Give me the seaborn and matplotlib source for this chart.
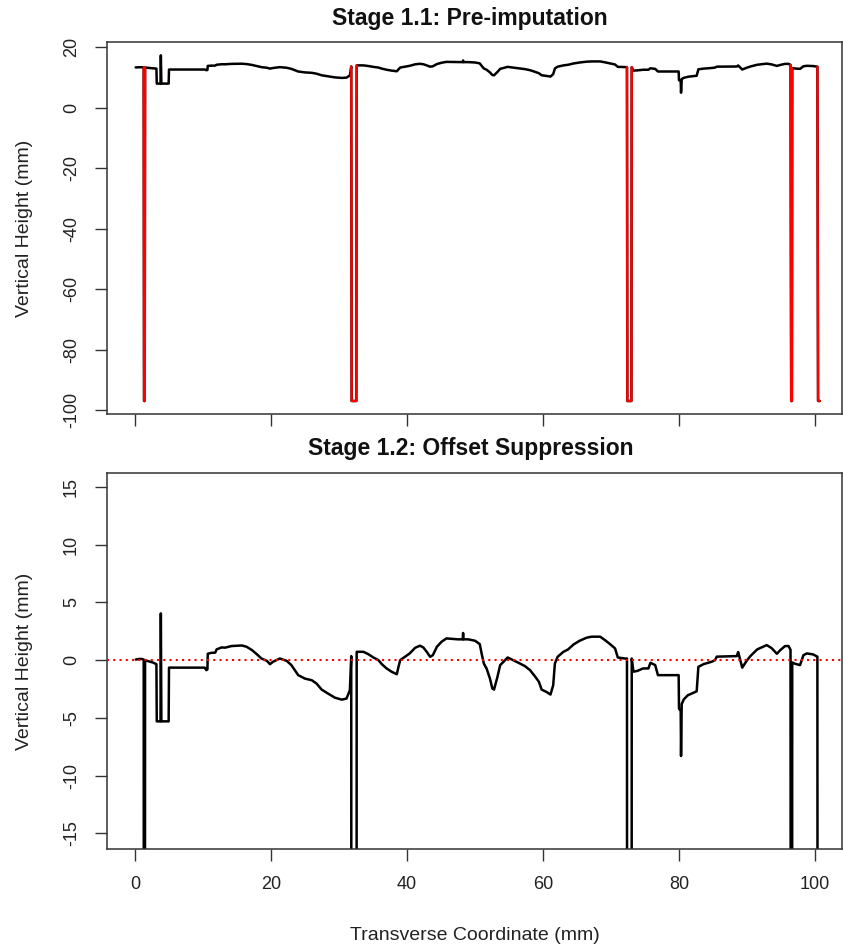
import numpy as np
import pandas as pd
import matplotlib
matplotlib.use("Agg")
import matplotlib.pyplot as plt
import seaborn as sns

# ---------------- data ----------------
# transverse coordinate of profile points (mm)
x_mm = [0.1, 0.6, 1.0, 1.28, 1.33, 1.43, 1.48, 2.0, 2.6, 3.15, 3.2, 3.75, 3.8, 3.88,
        4.95, 5.0, 7.0, 10.25, 10.5, 10.65, 10.7, 11.2, 11.8, 12.0, 12.75, 13.24,
        14.2, 15.7, 16.4, 17.2, 17.9, 18.6, 19.4, 19.85, 20.3, 21.3, 22.3, 23.0,
        23.5, 24.0, 25.0, 26.0, 26.7, 27.45, 28.4, 29.4, 30.4, 31.1, 31.6, 31.8,
        31.86, 32.55, 32.6, 33.6, 34.3, 35.05, 35.8, 36.3, 37.0, 37.75, 38.5,
        38.75, 39.0, 39.7, 40.4, 41.2, 41.9, 42.4, 42.9, 43.4, 43.8, 44.4, 45.1,
        45.8, 47.5, 48.2, 48.25, 48.3, 49.0, 50.0, 50.7, 51.0, 51.3, 51.7, 52.2,
        52.55, 52.8, 53.3, 53.7, 54.2, 54.8, 55.6, 56.4, 57.35, 58.1, 58.8, 59.4,
        59.8, 60.5, 61.1, 61.5, 61.75, 62.15, 63.0, 63.7, 64.5, 65.4, 66.4, 67.15,
        68.4, 69.1, 69.85, 70.6, 71.0, 72.0, 72.35, 72.4, 73.0, 73.05, 73.3, 73.9,
        74.7, 75.5, 75.8, 76.5, 76.9, 78.7, 79.95, 80.0, 80.25, 80.3, 80.4, 80.7,
        81.3, 82.6, 82.85, 83.6, 84.8, 85.3, 85.55, 88.5, 88.7, 89.3, 89.9, 90.5,
        91.5, 92.9, 93.6, 94.4, 94.9, 95.6, 96.1, 96.4, 96.5, 96.6, 96.65, 97.0,
        97.8, 98.3, 98.8, 99.7, 100.35, 100.45, 100.7]

# height after offset suppression (mm); None = missing reading
height_mm = [0.05, 0.1, 0.1, 0.05, None, None, 0.0, -0.1, -0.2, -0.35, -5.3, -5.3, 4.05, -5.3,
             -5.3, -0.65, -0.65, -0.65, -0.87, -0.8, 0.55, 0.63, 0.65, 0.93, 1.1, 1.08,
             1.22, 1.27, 1.16, 0.87, 0.52, 0.14, -0.06, -0.35, -0.14, 0.14, -0.06, -0.43,
             -0.87, -1.3, -1.6, -1.74, -2.03, -2.55, -2.9, -3.25, -3.42, -3.33, -2.61, 0.35,
             None, None, 0.72, 0.72, 0.52, 0.23, 0.0, -0.35, -0.72, -1.01, -1.22,
             -0.58, 0.0, 0.29, 0.58, 1.07, 1.25, 1.1, 0.72, 0.29, 0.43, 1.16, 1.6,
             1.88, 1.8, 1.8, 2.35, 1.8, 1.8, 1.68, 1.39, 0.5, -0.3, -0.72, -1.6,
             -2.46, -2.55, -1.45, -0.43, -0.14, 0.23, 0.0, -0.23, -0.52, -0.87, -1.39, -1.88,
             -2.55, -2.75, -2.98, -2.17, -0.29, 0.29, 0.72, 0.93, 1.36, 1.68, 1.94, 2.03,
             2.03, 1.74, 1.39, 1.01, 0.23, 0.14, 0.14, None, None, 0.14, -1.0, -0.93,
             -0.72, -0.72, -0.23, -0.43, -1.3, -1.3, -1.3, -4.2, -4.4, -8.3, -3.8, -3.4,
             -3.04, -2.7, -0.58, -0.35, -0.14, 0.0, 0.3, 0.35, 0.7, -0.65, -0.1, 0.35,
             0.93, 1.3, 1.05, 0.55, 0.87, 1.22, 1.22, 0.9, None, None, -0.2, -0.3,
             -0.43, 0.43, 0.58, 0.5, 0.3, None, None]

offset_mm = 13.2          # removed offset
missing_code_mm = -97.0   # value recorded for missing readings

x_ticks = [0, 20, 40, 60, 80, 100]
y_ticks_top = [20, 0, -20, -40, -60, -80, -100]
y_ticks_bottom = [15, 10, 5, 0, -5, -10, -15]

title_top = "Stage 1.1: Pre-imputation"
title_bottom = "Stage 1.2: Offset Suppression"
x_label = "Transverse Coordinate (mm)"
y_label = "Vertical Height (mm)"

# ---------------- prepare ----------------
missing = np.array([h is None for h in height_mm])
h = np.array([np.nan if v is None else v for v in height_mm], dtype=float)
raw = np.where(missing, missing_code_mm, h + offset_mm)
suppressed = raw - offset_mm

df = pd.DataFrame({"x": x_mm, "raw": raw, "sup": suppressed, "miss": missing})

# ---------------- style ----------------
sns.set_style("ticks")
plt.rcParams["font.family"] = ["Liberation Sans", "DejaVu Sans"]

W, H = 843, 949
fig = plt.figure(figsize=(W / 100, H / 100), dpi=100)
L, R = 107, 842
ax1 = fig.add_axes([L / W, 1 - 414 / H, (R - L) / W, (414 - 42) / H])
ax2 = fig.add_axes([L / W, 1 - 849 / H, (R - L) / W, (849 - 473) / H])

# top panel: raw profile with missing segments in red
sns.lineplot(data=df, x="x", y="raw", ax=ax1, color="black", lw=1.8,
             sort=False, estimator=None)
idx = np.where(df["miss"].values)[0]
runs = []
for i in idx:
    if runs and i == runs[-1][-1] + 1:
        runs[-1].append(i)
    else:
        runs.append([i])
for run in runs:
    lo = max(run[0] - 1, 0)
    hi = min(run[-1] + 1, len(df) - 1)
    seg = df.iloc[lo:hi + 1]
    sns.lineplot(data=seg, x="x", y="raw", ax=ax1, color="red", lw=1.7,
                 sort=False, estimator=None)

# bottom panel: offset-suppressed profile
sns.lineplot(data=df, x="x", y="sup", ax=ax2, color="black", lw=1.8,
             sort=False, estimator=None)
ax2.axhline(0, color="red", lw=1.5, ls=(0, (1, 2)), zorder=5)

xlim = ((L - 135) / 6.8, (R - 135) / 6.8)
for ax, yt, yl, title, ycen in [
    (ax1, y_ticks_top, (-101.3, 21.65), title_top, 18),
    (ax2, y_ticks_bottom, (-16.35, 16.2), title_bottom, 449),
]:
    ax.set_xlim(*xlim)
    ax.set_ylim(*yl)
    ax.set_xticks(x_ticks)
    ax.set_yticks(yt)
    ax.set_yticklabels([str(v) for v in yt])
    for s in ax.spines.values():
        s.set_visible(True)
        s.set_color("#333333")
        s.set_linewidth(1.1)
    ax.tick_params(direction="out", length=8.5, width=1.0, color="#333333",
                   labelsize=13, pad=11, labelcolor="#222222")
    for t in ax.get_yticklabels():
        t.set_rotation(90)
        t.set_va("center")
        t.set_ha("right")
    ax.set_ylabel(y_label, fontsize=14, color="#222222", va="center")
    ax.yaxis.set_label_coords((25 - L) / (R - L), 0.5)
    ax.set_xlabel("")
    fig.text((L + R) / 2 / W - 0.005, 1 - ycen / H, title, ha="center", va="center",
             fontsize=16.5, fontweight="bold", color="#111111")

ax1.set_xticklabels([])
ax2.set_xticklabels([str(v) for v in x_ticks])
ax2.set_xlabel(x_label, fontsize=14, color="#222222", va="center")
ax2.xaxis.set_label_coords(0.5, (849 - 935) / (849 - 473))

fig.savefig("out.png", dpi=100)
